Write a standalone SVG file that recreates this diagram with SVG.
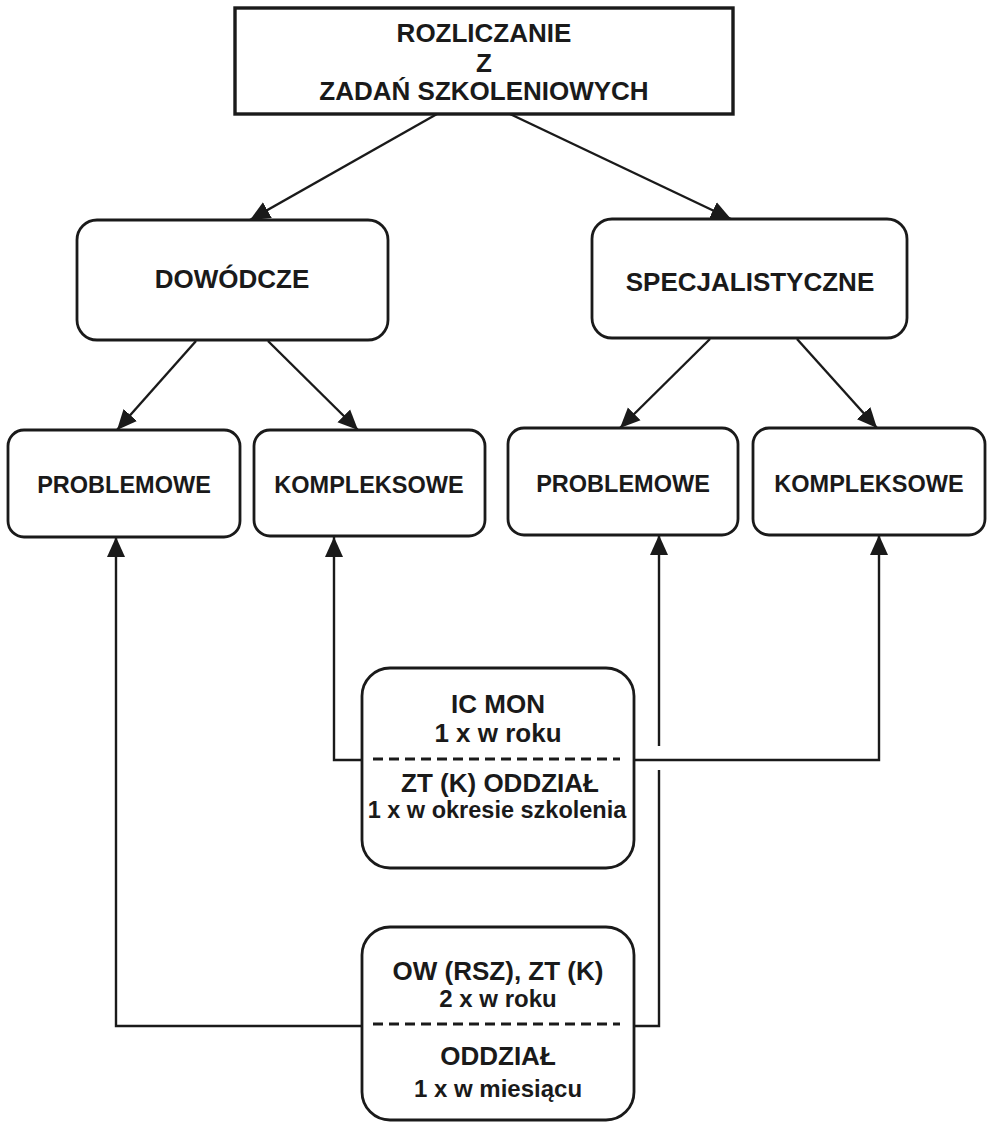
<svg xmlns="http://www.w3.org/2000/svg" width="990" height="1122" viewBox="0 0 990 1122">
  <style>
    .box { fill: #ffffff; stroke: #1a1a1a; stroke-width: 2.8; }
    .title { fill: #ffffff; stroke: #1a1a1a; stroke-width: 3.4; }
    .sep { stroke: #1a1a1a; stroke-width: 2.8; stroke-dasharray: 10 6; fill: none; }
    .link { fill: none; stroke: #1a1a1a; stroke-width: 2.4; }
    text { font-family: "Liberation Sans", Arial, sans-serif; font-weight: bold; fill: #1a1a1a; text-anchor: middle; }
    .big { font-size: 26px; }
    .mid { font-size: 23.5px; }
    .small { font-size: 24px; }
  </style>
  <defs>
    <marker id="arrow" markerUnits="userSpaceOnUse" markerWidth="20" markerHeight="20" viewBox="0 0 20 20" refX="20" refY="10" orient="auto">
      <path d="M0,1 L20,10 L0,19 Z" fill="#1a1a1a"/>
    </marker>
  </defs>

  <rect width="990" height="1122" fill="#ffffff"/>

  <!-- connectors -->
  <g id="connectors">
    <path class="link" d="M437,114 L250,220" marker-end="url(#arrow)"/>
    <path class="link" d="M510,114 L731,219" marker-end="url(#arrow)"/>
    <path class="link" d="M196,341 L117,430" marker-end="url(#arrow)"/>
    <path class="link" d="M268,341 L358,430" marker-end="url(#arrow)"/>
    <path class="link" d="M710,339 L620,428" marker-end="url(#arrow)"/>
    <path class="link" d="M797,339 L877,428" marker-end="url(#arrow)"/>
    <path class="link" d="M362,760 H334 V537" marker-end="url(#arrow)"/>
    <path class="link" d="M634,760 H879 V535" marker-end="url(#arrow)"/>
    <path class="link" d="M362,1026 H116 V537" marker-end="url(#arrow)"/>
    <path class="link" d="M634,1026 H659 V770"/>
    <path class="link" d="M659,746 V535" marker-end="url(#arrow)"/>
  </g>

  <g id="root">
    <rect class="title" x="235" y="8" width="498" height="106"/>
    <text class="big" x="484" y="42">ROZLICZANIE</text>
    <text class="big" x="484" y="72">Z</text>
    <text class="big" x="484" y="100">ZADAŃ SZKOLENIOWYCH</text>
  </g>

  <g id="dowodcze">
    <rect class="box" x="77" y="220" width="311" height="120" rx="20"/>
    <text class="big" x="232" y="288">DOWÓDCZE</text>
  </g>

  <g id="specjalistyczne">
    <rect class="box" x="592" y="219" width="315" height="119" rx="20"/>
    <text class="big" x="750" y="291">SPECJALISTYCZNE</text>
  </g>

  <g id="dow-problemowe">
    <rect class="box" x="8" y="430" width="232" height="107" rx="16"/>
    <text class="mid" x="124" y="493">PROBLEMOWE</text>
  </g>

  <g id="dow-kompleksowe">
    <rect class="box" x="254" y="430" width="231" height="106" rx="16"/>
    <text class="mid" x="369" y="493">KOMPLEKSOWE</text>
  </g>

  <g id="spec-problemowe">
    <rect class="box" x="508" y="428" width="230" height="107" rx="16"/>
    <text class="mid" x="623" y="492">PROBLEMOWE</text>
  </g>

  <g id="spec-kompleksowe">
    <rect class="box" x="753" y="428" width="232" height="107" rx="16"/>
    <text class="mid" x="869" y="492">KOMPLEKSOWE</text>
  </g>

  <g id="ic-mon">
    <rect class="box" x="362" y="668" width="272" height="200" rx="28"/>
    <text class="big" x="498" y="713">IC MON</text>
    <text class="small" x="498" y="742" style="font-size:26px">1 x w roku</text>
    <line class="sep" x1="373" y1="759" x2="620" y2="759"/>
    <text class="big" x="500" y="792">ZT (K) ODDZIAŁ</text>
    <text class="mid" x="497" y="818">1 x w okresie szkolenia</text>
  </g>

  <g id="ow-oddzial">
    <rect class="box" x="362" y="927" width="272" height="193" rx="28"/>
    <text class="big" x="498" y="980">OW (RSZ), ZT (K)</text>
    <text class="small" x="498" y="1007">2 x w roku</text>
    <line class="sep" x1="373" y1="1024" x2="620" y2="1024"/>
    <text class="big" x="498" y="1065">ODDZIAŁ</text>
    <text class="small" x="498" y="1097">1 x w miesiącu</text>
  </g>
</svg>
